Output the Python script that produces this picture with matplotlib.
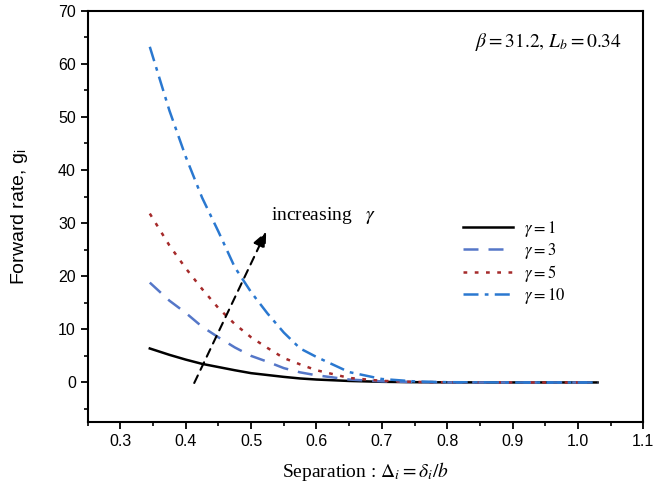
import numpy as np
import matplotlib
matplotlib.use("Agg")
import matplotlib.pyplot as plt
from matplotlib.ticker import MultipleLocator

plt.rcParams["font.family"] = ["Liberation Sans", "DejaVu Sans"]
plt.rcParams["mathtext.fontset"] = "stix"

# ==========================================================
# DATA
# ==========================================================

separation = [0.345, 0.375, 0.40, 0.425, 0.45, 0.475, 0.50, 0.525, 0.55,
              0.575, 0.60, 0.65, 0.70, 0.75, 0.80, 0.90, 1.03]

rate_g1 = [6.4, 5.2, 4.3, 3.5, 2.9, 2.3, 1.75, 1.4, 1.05,
           0.75, 0.55, 0.28, 0.12, 0.05, 0.02, 0.0, 0.0]
rate_g3 = [18.8, 15.4, 13.1, 10.5, 8.5, 6.6, 5.0, 3.9, 2.7,
           1.9, 1.35, 0.55, 0.2, 0.07, 0.02, 0.0, 0.0]
rate_g5 = [31.8, 25.8, 21.5, 17.6, 14.0, 11.0, 8.5, 6.5, 4.6,
           3.4, 2.3, 0.85, 0.3, 0.1, 0.03, 0.0, 0.0]
rate_g10 = [63.2, 51.2, 42.5, 34.8, 28.4, 21.7, 17.0, 13.0, 9.4,
            6.4, 4.8, 1.95, 0.65, 0.2, 0.05, 0.0, 0.0]

series_labels = [r"$\gamma = 1$", r"$\gamma = 3$", r"$\gamma = 5$", r"$\gamma = 10$"]

arrow_start = (0.413, -0.1)
arrow_end = (0.523, 28.4)

# ==========================================================
# PLOT
# ==========================================================

fig = plt.figure(figsize=(6.71, 4.95), dpi=100)
ax = fig.add_axes([0.1307, 0.1469, 0.9587 - 0.1307, 0.9784 - 0.1469])

ax.plot(separation, rate_g1, color="black", lw=1.8, ls="-", label=series_labels[0])
ax.plot(separation, rate_g3, color="#5577c8", lw=1.8, ls=(0, (6, 4)), label=series_labels[1])
ax.plot(separation, rate_g5, color="#a52a2a", lw=1.8, ls=(0, (1.5, 3)), label=series_labels[2])
ax.plot(separation, rate_g10, color="#2a78d0", lw=1.8, ls=(0, (6, 2.5, 1.5, 2.5)), label=series_labels[3])

# dashed arrow "increasing gamma"
ax.annotate("", xy=arrow_end, xytext=arrow_start,
            arrowprops=dict(arrowstyle="-|>,head_length=0.9,head_width=0.4",
                            color="black", lw=1.5, ls=(0, (4, 3)),
                            shrinkA=0, shrinkB=0))
ax.text(0.531, 31.4, r"increasing   $\gamma$", fontsize=14, va="center",
        family="Liberation Serif")

ax.text(0.961, 0.924, r"$\beta = 31.2,\, L_b = 0.34$", transform=ax.transAxes,
        ha="right", va="center", fontsize=14)

ax.set_xlim(0.25, 1.1)
ax.set_ylim(-7.5, 70)

ax.xaxis.set_major_locator(MultipleLocator(0.1))
ax.xaxis.set_minor_locator(MultipleLocator(0.05))
ax.yaxis.set_major_locator(MultipleLocator(10))
ax.yaxis.set_minor_locator(MultipleLocator(5))
ax.set_xticks(np.arange(0.3, 1.11, 0.1))
ax.set_xticklabels(["0.3", "0.4", "0.5", "0.6", "0.7", "0.8", "0.9", "1.0", "1.1"])

ax.tick_params(which="major", direction="out", length=5, width=1.3, labelsize=11.5)
ax.tick_params(which="minor", direction="out", length=3, width=1.2)
for s in ax.spines.values():
    s.set_linewidth(1.5)

ax.set_ylabel(r"Forward rate, g$_\mathregular{i}$", fontsize=14, labelpad=20)
ax.set_xlabel(r"Separation : $\Delta_i = \delta_i/b$", fontsize=14,
              family="Liberation Serif", labelpad=8)

ax.legend(loc="upper left", bbox_to_anchor=(0.66, 0.515), frameon=False,
          fontsize=12, handlelength=3.0, labelspacing=0.12, handletextpad=0.7,
          borderpad=0.0)

plt.savefig("out.png", dpi=100)
plt.close()
